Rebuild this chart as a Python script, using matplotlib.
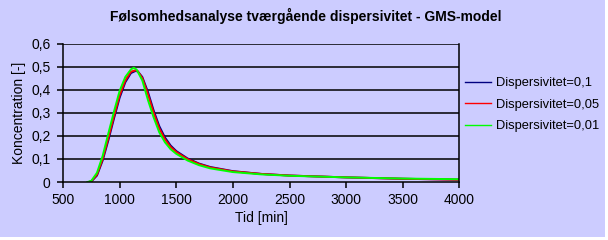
import matplotlib
matplotlib.use("Agg")
import matplotlib.pyplot as plt
from matplotlib.patches import Rectangle

plt.rcParams['font.family'] = ['Liberation Sans', 'DejaVu Sans']

title = "Følsomhedsanalyse tværgående dispersivitet - GMS-model"
xlabel = "Tid [min]"
ylabel = "Koncentration [-]"
series_names = ["Dispersivitet=0,1", "Dispersivitet=0,05", "Dispersivitet=0,01"]
series_colors = ["#000080", "#FF0000", "#00FF00"]

t_blue = [725, 750, 800, 850, 900, 950, 1000, 1050, 1100, 1140, 1160, 1200, 1250, 1300, 1350, 1400,
          1450, 1500, 1600, 1700, 1800, 2000, 2250, 2500, 3000, 3500, 4000]
c_blue = [0.0, 0.002, 0.028, 0.093, 0.18, 0.275, 0.365, 0.432, 0.472, 0.481, 0.479, 0.455, 0.39,
          0.31, 0.242, 0.193, 0.158, 0.134, 0.102, 0.08, 0.065, 0.047, 0.035, 0.028, 0.020, 0.014, 0.010]

t_red = [725, 750, 800, 850, 900, 950, 1000, 1050, 1100, 1140, 1160, 1200, 1250, 1300, 1350, 1400,
         1450, 1500, 1600, 1700, 1800, 2000, 2250, 2500, 3000, 3500, 4000]
c_red = [0.0, 0.003, 0.032, 0.10, 0.19, 0.285, 0.375, 0.44, 0.478, 0.484, 0.480, 0.45, 0.38,
         0.30, 0.232, 0.185, 0.152, 0.13, 0.099, 0.078, 0.063, 0.046, 0.035, 0.028, 0.020, 0.014, 0.010]

t_green = [715, 725, 750, 800, 850, 900, 950, 1000, 1050, 1100, 1125, 1150, 1200, 1250, 1300, 1350,
           1400, 1450, 1500, 1600, 1700, 1800, 2000, 2250, 2500, 3000, 3500, 4000]
c_green = [0.0, 0.001, 0.005, 0.04, 0.113, 0.21, 0.305, 0.395, 0.455, 0.488, 0.495, 0.487, 0.44,
           0.355, 0.28, 0.215, 0.172, 0.142, 0.122, 0.093, 0.073, 0.059, 0.043, 0.033, 0.027, 0.020,
           0.015, 0.012]

xticks = [500, 1000, 1500, 2000, 2500, 3000, 3500, 4000]
yticks = [0, 0.1, 0.2, 0.3, 0.4, 0.5, 0.6]
ytick_labels = ["0", "0,1", "0,2", "0,3", "0,4", "0,5", "0,6"]

W, H = 608, 240
bg = "#CCCCFF"
fig = plt.figure(figsize=(W / 100, H / 100), dpi=100, facecolor="white")
fig.patches.append(Rectangle((0, 3 / H), 605 / W, 237 / H, transform=fig.transFigure,
                             facecolor=bg, edgecolor="none", zorder=-10))

L, R, T, B = 63, 459.5, 43.5, 182
ax = fig.add_axes([L / W, 1 - B / H, (R - L) / W, (B - T) / H])
ax.set_facecolor(bg)

for t, c, col, name in zip([t_blue, t_red, t_green], [c_blue, c_red, c_green], series_colors, series_names):
    ax.plot(t, c, color=col, lw=1.4, label=name, solid_joinstyle="round")

ax.set_xlim(500, 4000)
ax.set_ylim(0, 0.6)
ax.set_xticks(xticks)
ax.set_xticklabels([str(x) for x in xticks])
ax.set_yticks(yticks)
ax.set_yticklabels(ytick_labels)
for y in yticks[1:]:
    ax.axhline(y, color="black", lw=1.1, zorder=0.5)
for s in ["left", "bottom", "right"]:
    ax.spines[s].set_color("black")
    ax.spines[s].set_linewidth(1.1)
ax.spines["top"].set_visible(False)
ax.tick_params(axis="both", direction="out", length=4, width=1.1, labelsize=10, pad=5)
ax.tick_params(axis="x", pad=4)

ax.set_xlabel(xlabel, fontsize=10, labelpad=3)
ax.set_ylabel(ylabel, fontsize=10, labelpad=4)

fig.text(306 / W, 1 - 16 / H, title, ha="center", va="center", fontsize=10, fontweight="bold")

handles, labels = ax.get_legend_handles_labels()
leg = fig.legend(handles, labels, loc="upper left", bbox_to_anchor=(465 / W, 1 - 77 / H),
                 frameon=False, fontsize=9.3, handlelength=2.0, handletextpad=0.4,
                 labelspacing=0.75, borderaxespad=0, borderpad=0)
for line in leg.get_lines():
    line.set_linewidth(1.0)

fig.savefig("out.png", dpi=100, facecolor="white")
